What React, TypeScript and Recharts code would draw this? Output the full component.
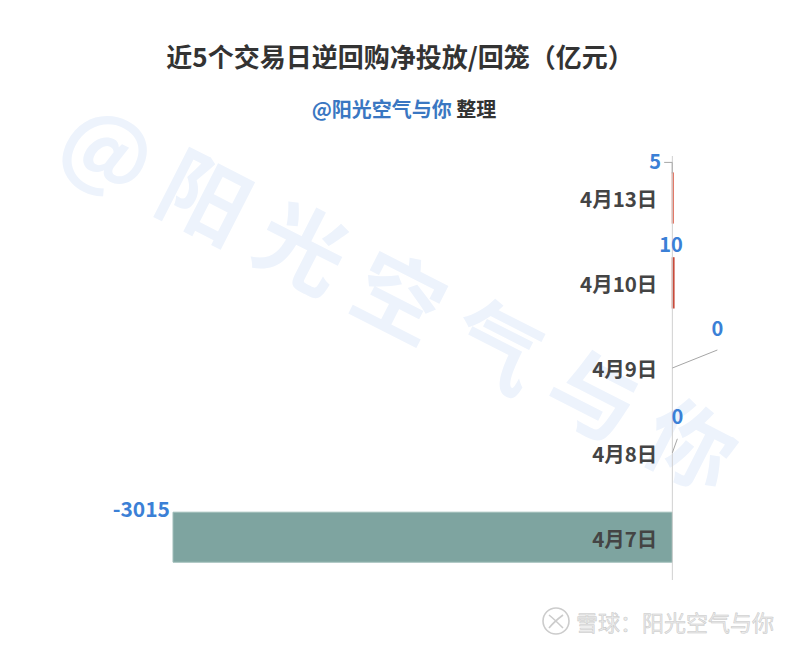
import React from 'react';
import { BarChart, Bar, XAxis, YAxis, Cell, ReferenceLine, ReferenceDot } from 'recharts';

const categories = ['4月13日', '4月10日', '4月9日', '4月8日', '4月7日'];
const values = [5, 10, 0, 0, -3015];
const barColors = ['#dc5a44', '#c94a3a', '#999999', '#999999', '#7ea4a0'];

const data = categories.map((date, i) => ({ date, value: values[i] }));

const FONT = '"Noto Sans CJK SC", "Noto Sans", sans-serif';
const LABEL_BLUE = '#3b80d6';
const BAR_SIZE = 50;

// label placement relative to the bar's zero edge / centre (layout only)
const labelLayout = [
  { dx: -17, dy: -38, leader: 'hook' },
  { dx: -1, dy: -40, leader: 'none' },
  { dx: 45, dy: -41, leader: 'diag' },
  { dx: 5, dy: -37, leader: 'diag' },
  { dx: -3, dy: -30, leader: 'left' },
];

const makeValueShape = (index: number, value: number) => (props: any) => {
  const { cx, cy } = props;
  const lay = labelLayout[index];
  if (lay.leader === 'left') {
    return (
      <text x={cx + lay.dx} y={cy + lay.dy} textAnchor="end" dominantBaseline="central"
        fill={LABEL_BLUE} fontSize={21} fontWeight={700} fontFamily={FONT}>{value}</text>
    );
  }
  const zeroX = index < 2 ? cx - (index === 0 ? 1 : 2) : cx;
  const tx = zeroX + lay.dx;
  const ty = cy + lay.dy;
  const top = cy - BAR_SIZE / 2;
  return (
    <g>
      {lay.leader === 'hook' && (
        <polyline points={`${tx + 9},${ty + 2} ${zeroX},${ty + 2} ${zeroX},${top}`} fill="none" stroke="#a6a6a6" strokeWidth={1} />
      )}
      {lay.leader === 'diag' && (
        <line x1={zeroX} y1={cy} x2={tx} y2={ty + 23} stroke="#a6a6a6" strokeWidth={1} />
      )}
      <text x={tx} y={ty} textAnchor="middle" dominantBaseline="central"
        fill={LABEL_BLUE} fontSize={20} fontWeight={700} fontFamily={FONT}>{value}</text>
    </g>
  );
};

const makeCategoryShape = (label: string) => (props: any) => {
  const { cx, cy } = props;
  return (
    <text x={cx - 15} y={cy} textAnchor="end" dominantBaseline="central"
      fill="#444444" fontSize={20.5} fontWeight={700} fontFamily={FONT}>{label}</text>
  );
};

const watermarkChars = ['@', '阳', '光', '空', '气', '与', '你'];

export default function App() {
  return (
    <div style={{ position: 'absolute', left: 0, top: 0, width: 800, height: 645, background: '#ffffff', overflow: 'hidden' }}>
      <svg width={800} height={645} style={{ position: 'absolute', left: 0, top: 0 }}>
        <g transform="rotate(27 402 292)">
          {watermarkChars.map((c, i) => (
            <text key={i} x={402 + (i - 3) * 109} y={292} textAnchor="middle" dominantBaseline="central"
              fill="#edf3fc" fontSize={88} fontWeight={700} fontFamily={FONT}>{c}</text>
          ))}
        </g>
      </svg>
      <div style={{ position: 'absolute', left: 0, top: 0 }}>
        <BarChart width={800} height={645} layout="vertical" data={data}
          margin={{ top: 156, right: 126, bottom: 65, left: 173 }} barSize={BAR_SIZE}>
          <XAxis type="number" hide domain={[-3015, 10]} />
          <YAxis type="category" dataKey="date" hide />
          <Bar dataKey="value" isAnimationActive={false}>
            {data.map((d, i) => (
              <Cell key={d.date} fill={barColors[i]}
                stroke={i === 4 ? '#9fbdb9' : barColors[i]} strokeWidth={i === 4 ? 1 : 1.2} />
            ))}
          </Bar>
          <ReferenceLine x={0} stroke="#d0d0d0" strokeWidth={1} />
          {data.map((d) => (
            <ReferenceDot key={'c' + d.date} x={0} y={d.date} r={0} ifOverflow="visible"
              shape={makeCategoryShape(d.date)} />
          ))}
          {data.map((d, i) => (
            <ReferenceDot key={'v' + d.date} x={d.value} y={d.date} r={0} ifOverflow="visible"
              shape={makeValueShape(i, d.value)} />
          ))}
        </BarChart>
      </div>
      <svg width={800} height={645} style={{ position: 'absolute', left: 0, top: 0, pointerEvents: 'none' }}>
        <text x={400} y={55} textAnchor="middle" dominantBaseline="central" fill="#333333"
          fontSize={26} fontWeight={700} fontFamily={FONT}>近5个交易日逆回购净投放/回笼（亿元）</text>
        <text x={404} y={108} textAnchor="middle" dominantBaseline="central"
          fontSize={20} fontWeight={700} fontFamily={FONT}>
          <tspan fill="#3a77c2">@阳光空气与你</tspan>
          <tspan fill="#333333"> 整理</tspan>
        </text>
        <g transform="translate(556 621)" fill="none" stroke="#cccccc" strokeWidth={1.6}>
          <circle cx={0} cy={0} r={13} />
          <path d="M-7,-6 C-2,-2 2,2 7,7 M7,-6 C3,-3 -3,2 -7,7" />
        </g>
        <text x={576} y={621} dominantBaseline="central" fill="#ececec" stroke="#c6c6c6" strokeWidth={0.5}
          fontSize={22} fontFamily={FONT}>雪球：阳光空气与你</text>
      </svg>
    </div>
  );
}
